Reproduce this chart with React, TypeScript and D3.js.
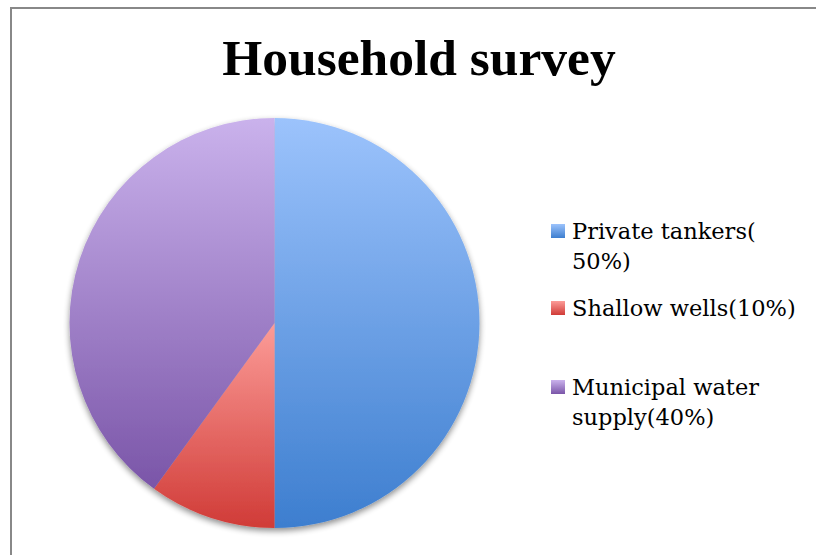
import React from "react";
import * as d3 from "d3";

const title = "Household survey";
const categories = ["Private tankers", "Shallow wells", "Municipal water supply"];
const values = [50, 10, 40];
const legendLines = [["Private tankers(", "50%)"], ["Shallow wells(10%)"], ["Municipal water", "supply(40%)"]];
const gradTop = ["#9cc3fc", "#fc9c98", "#cab2ec"];
const gradBottom = ["#3d7ecf", "#d03b37", "#7a55a8"];

const W = 816, H = 555;
const cx = 274.5, cy = 323, R = 205;
const legendX = 551;
const legendBaselines = [[239, 269], [316], [395, 425]];

export default function App() {
  const pie = d3.pie<number>().sort(null).value((d) => d)(values);
  const arc = d3.arc<d3.PieArcDatum<number>>().innerRadius(0).outerRadius(R);
  return (
    <svg width={W} height={H} style={{ position: "absolute", left: 0, top: 0, background: "#fff", overflow: "hidden" }}>
      <defs>
        {categories.map((c, i) => (
          <linearGradient key={c} id={`g${i}`} x1="0" y1="0" x2="0" y2="1">
            <stop offset="0" stopColor={gradTop[i]} />
            <stop offset="1" stopColor={gradBottom[i]} />
          </linearGradient>
        ))}
        <filter id="shadow" x="-20%" y="-20%" width="140%" height="140%">
          <feGaussianBlur in="SourceAlpha" stdDeviation="3" />
          <feOffset dx="0" dy="3" result="b" />
          <feComponentTransfer><feFuncA type="linear" slope="0.45" /></feComponentTransfer>
          <feMerge>
            <feMergeNode />
            <feMergeNode in="SourceGraphic" />
          </feMerge>
        </filter>
      </defs>
      <rect x={11} y={8} width={W + 40} height={H + 40} fill="#fff" stroke="#888" strokeWidth={2} />
      <text x={419} y={75} textAnchor="middle" fontFamily="Liberation Serif" fontWeight="bold" fontSize={51.5} fill="#000">
        {title}
      </text>
      <g transform={`translate(${cx},${cy})`} filter="url(#shadow)">
        {pie.map((p, i) => (
          <path key={categories[i]} d={arc(p) || ""} fill={`url(#g${i})`} />
        ))}
      </g>
      {categories.map((c, i) => (
        <g key={c}>
          <rect x={legendX} y={legendBaselines[i][0] - 15} width={14} height={14} fill={`url(#g${i})`} />
          {legendLines[i].map((line, j) => (
            <text key={j} x={572} y={legendBaselines[i][j]} fontFamily="DejaVu Serif" fontSize={22.5} fill="#000">
              {line}
            </text>
          ))}
        </g>
      ))}
    </svg>
  );
}
